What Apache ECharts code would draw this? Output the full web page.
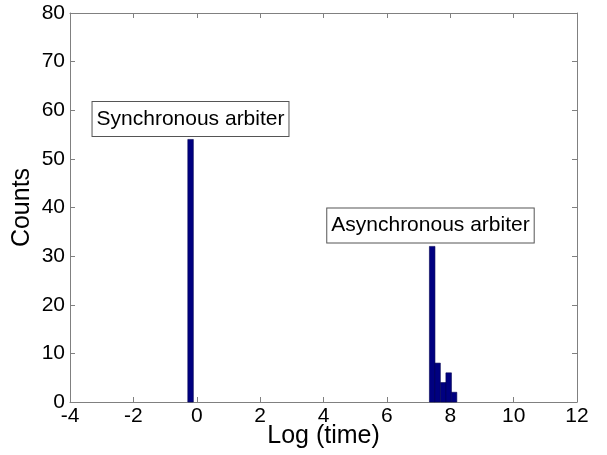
<!DOCTYPE html>
<html>
<head>
<meta charset="utf-8">
<script src="https://cdn.jsdelivr.net/npm/echarts@6/dist/echarts.min.js"></script>
<style>html,body{margin:0;padding:0;background:#fff}#c{width:607px;height:455px}</style>
</head>
<body>
<div id="c"></div>
<script>
// Histogram bins (centers in log(time)) and counts
const binCenters = [-0.195, 7.43, 7.60, 7.78, 7.95, 8.12];
const binCounts  = [54, 32, 8, 4, 6, 2];
const binWidth = 0.175;

// Annotations
const annoTexts = ['Synchronous arbiter', 'Asynchronous arbiter'];
const annoX = [-0.197, 7.376];
const annoY = [58.2, 36.3];

const xTicks = {min: -4, max: 12, interval: 2};
const yTicks = {min: 0, max: 80, interval: 10};

const FONT = 'Liberation Sans, Arial, sans-serif';
const axisGray = '#808080';

const chart = echarts.init(document.getElementById('c'));
const baseAxis = {
  axisLine: {show: true, onZero: false, lineStyle: {color: axisGray, width: 1}},
  axisTick: {show: true, inside: true, length: 5, lineStyle: {color: axisGray}},
  splitLine: {show: false}
};
chart.setOption({
  animation: false,
  backgroundColor: '#fff',
  grid: {left: 70, right: 30, top: 13, bottom: 53, containLabel: false, outerBoundsMode: 'none'},
  xAxis: [
    Object.assign({}, baseAxis, {
      type: 'value', min: xTicks.min, max: xTicks.max, interval: xTicks.interval,
      position: 'bottom',
      axisLabel: {color: '#000', fontSize: 21, fontFamily: FONT, margin: 4},
      name: 'Log (time)', nameLocation: 'middle', nameGap: 22, nameMoveOverlap: false,
      nameTextStyle: {color: '#000', fontSize: 25, fontFamily: FONT}
    }),
    Object.assign({}, baseAxis, {
      type: 'value', min: xTicks.min, max: xTicks.max, interval: xTicks.interval,
      position: 'top', axisLabel: {show: false}
    })
  ],
  yAxis: [
    Object.assign({}, baseAxis, {
      type: 'value', min: yTicks.min, max: yTicks.max, interval: yTicks.interval,
      position: 'left',
      axisLabel: {color: '#000', fontSize: 21, fontFamily: FONT, margin: 5},
      name: 'Counts', nameLocation: 'middle', nameGap: 35, nameMoveOverlap: false,
      nameTextStyle: {color: '#000', fontSize: 25, fontFamily: FONT}
    }),
    Object.assign({}, baseAxis, {
      type: 'value', min: yTicks.min, max: yTicks.max, interval: yTicks.interval,
      position: 'right', axisLabel: {show: false}
    })
  ],
  series: [
    {
      type: 'custom',
      xAxisIndex: 0, yAxisIndex: 0,
      data: binCenters.map((c, i) => [c, binCounts[i]]),
      renderItem: function (params, api) {
        const x = api.value(0), y = api.value(1);
        const p0 = api.coord([x - binWidth / 2, 0]);
        const p1 = api.coord([x + binWidth / 2, y]);
        return {
          type: 'rect',
          shape: {x: p0[0], y: p1[1], width: p1[0] - p0[0], height: p0[1] - p1[1]},
          style: {fill: '#000080', stroke: '#000050', lineWidth: 0.6}
        };
      }
    },
    {
      type: 'custom',
      xAxisIndex: 0, yAxisIndex: 0,
      data: annoTexts.map((t, i) => [annoX[i], annoY[i], t]),
      renderItem: function (params, api) {
        const p = api.coord([api.value(0), api.value(1)]);
        return {
          type: 'text',
          x: p[0], y: p[1],
          style: {
            text: annoTexts[params.dataIndex],
            fontSize: 21, fontFamily: FONT, fill: '#000',
            align: 'center', verticalAlign: 'middle',
            backgroundColor: '#fff', borderColor: '#555', borderWidth: 1,
            padding: [7, 4, 6, 4]
          }
        };
      }
    }
  ]
});
</script>
</body>
</html>
